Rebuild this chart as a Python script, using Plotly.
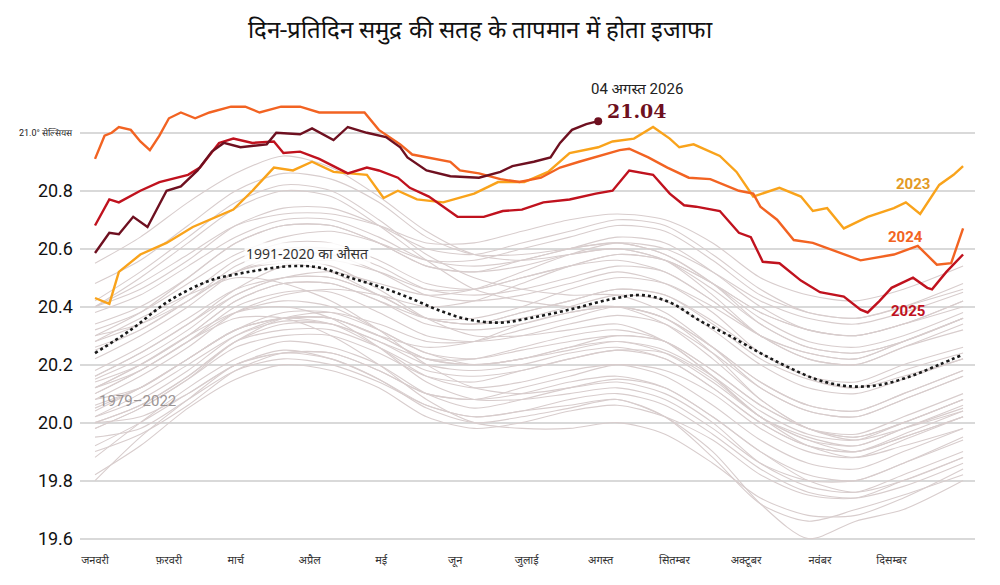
import plotly.graph_objects as go

# x values are day of year
month_days = [1, 32, 60, 91, 121, 152, 182, 213, 244, 274, 305, 335]
month_names = ["जनवरी", "फ़रवरी", "मार्च", "अप्रैल", "मई", "जून",
               "जुलाई", "अगस्त", "सितम्बर", "अक्टूबर", "नवंबर", "दिसम्बर"]

y_ticks = [19.6, 19.8, 20.0, 20.2, 20.4, 20.6, 20.8, 21.0]
y_ticktext = ["19.6", "19.8", "20.0", "20.2", "20.4", "20.6", "20.8", ""]

# grey lines 1979-2022, sampled every ~20 days
grey_days = [1, 20, 40, 60, 80, 100, 120, 140, 160, 180, 200, 220, 240, 260, 280, 300, 320, 340, 365]
grey_years = {
    1979: [19.80, 19.95, 20.08, 20.20, 20.24, 20.22, 20.15, 20.05, 20.00, 20.02, 20.05, 20.08, 20.02, 19.88, 19.72, 19.66, 19.70, 19.75, 19.82],
    1980: [19.88, 20.00, 20.12, 20.22, 20.28, 20.26, 20.20, 20.10, 20.05, 20.08, 20.12, 20.15, 20.12, 20.02, 19.90, 19.80, 19.76, 19.80, 19.88],
    1981: [20.00, 20.02, 20.10, 20.20, 20.25, 20.22, 20.15, 20.06, 20.02, 20.04, 20.08, 20.10, 20.06, 19.96, 19.84, 19.76, 19.74, 19.78, 19.86],
    1982: [19.98, 20.05, 20.15, 20.26, 20.30, 20.30, 20.24, 20.16, 20.14, 20.18, 20.22, 20.25, 20.24, 20.15, 20.02, 19.95, 19.92, 19.98, 20.05],
    1983: [20.28, 20.36, 20.44, 20.50, 20.48, 20.42, 20.32, 20.20, 20.12, 20.10, 20.12, 20.14, 20.10, 20.00, 19.86, 19.78, 19.76, 19.82, 19.90],
    1984: [19.95, 19.98, 20.08, 20.18, 20.22, 20.20, 20.14, 20.06, 20.02, 20.04, 20.06, 20.08, 20.02, 19.90, 19.72, 19.60, 19.66, 19.70, 19.80],
    1985: [19.82, 19.92, 20.05, 20.15, 20.20, 20.18, 20.12, 20.02, 19.98, 20.00, 20.04, 20.06, 20.02, 19.94, 19.82, 19.75, 19.74, 19.80, 19.88],
    1986: [19.92, 20.00, 20.10, 20.20, 20.24, 20.24, 20.18, 20.10, 20.08, 20.12, 20.16, 20.20, 20.18, 20.10, 19.98, 19.90, 19.88, 19.94, 20.02],
    1987: [20.05, 20.12, 20.22, 20.32, 20.36, 20.36, 20.30, 20.26, 20.28, 20.34, 20.38, 20.40, 20.36, 20.24, 20.08, 19.98, 19.94, 19.98, 20.04],
    1988: [20.12, 20.18, 20.28, 20.36, 20.36, 20.30, 20.20, 20.08, 20.00, 19.98, 19.98, 20.00, 19.96, 19.86, 19.74, 19.68, 19.68, 19.74, 19.84],
    1989: [19.90, 19.96, 20.06, 20.18, 20.24, 20.24, 20.18, 20.10, 20.08, 20.10, 20.14, 20.16, 20.12, 20.02, 19.90, 19.82, 19.80, 19.86, 19.95],
    1990: [20.00, 20.06, 20.16, 20.28, 20.32, 20.32, 20.26, 20.18, 20.16, 20.18, 20.22, 20.25, 20.22, 20.12, 20.00, 19.92, 19.90, 19.95, 20.02],
    1991: [20.02, 20.10, 20.20, 20.30, 20.35, 20.34, 20.28, 20.22, 20.22, 20.26, 20.30, 20.32, 20.28, 20.16, 20.02, 19.92, 19.88, 19.92, 19.98],
    1992: [20.12, 20.20, 20.30, 20.38, 20.40, 20.36, 20.26, 20.14, 20.08, 20.08, 20.10, 20.12, 20.08, 19.98, 19.86, 19.80, 19.80, 19.86, 19.94],
    1993: [19.98, 20.05, 20.15, 20.28, 20.34, 20.34, 20.28, 20.20, 20.18, 20.20, 20.24, 20.26, 20.22, 20.12, 20.00, 19.92, 19.90, 19.96, 20.04],
    1994: [20.04, 20.12, 20.22, 20.32, 20.38, 20.38, 20.32, 20.24, 20.22, 20.25, 20.28, 20.30, 20.28, 20.18, 20.06, 19.98, 19.96, 20.02, 20.10],
    1995: [20.10, 20.18, 20.28, 20.38, 20.42, 20.40, 20.32, 20.24, 20.20, 20.22, 20.25, 20.28, 20.24, 20.14, 20.02, 19.94, 19.92, 19.98, 20.06],
    1996: [20.06, 20.12, 20.22, 20.32, 20.36, 20.36, 20.30, 20.22, 20.20, 20.22, 20.26, 20.28, 20.25, 20.16, 20.04, 19.96, 19.94, 20.00, 20.08],
    1997: [20.08, 20.16, 20.26, 20.38, 20.44, 20.46, 20.44, 20.40, 20.42, 20.48, 20.54, 20.58, 20.56, 20.48, 20.38, 20.32, 20.30, 20.34, 20.42],
    1998: [20.40, 20.50, 20.62, 20.74, 20.80, 20.78, 20.68, 20.56, 20.46, 20.42, 20.40, 20.40, 20.34, 20.22, 20.08, 19.98, 19.95, 20.00, 20.08],
    1999: [20.08, 20.12, 20.22, 20.32, 20.36, 20.34, 20.26, 20.16, 20.12, 20.14, 20.18, 20.20, 20.16, 20.06, 19.94, 19.86, 19.84, 19.90, 19.98],
    2000: [20.02, 20.08, 20.18, 20.30, 20.36, 20.36, 20.30, 20.22, 20.20, 20.22, 20.26, 20.30, 20.28, 20.18, 20.06, 19.98, 19.95, 20.00, 20.08],
    2001: [20.10, 20.18, 20.28, 20.40, 20.45, 20.45, 20.38, 20.30, 20.28, 20.30, 20.34, 20.37, 20.34, 20.24, 20.12, 20.04, 20.02, 20.08, 20.16],
    2002: [20.18, 20.26, 20.36, 20.46, 20.50, 20.50, 20.44, 20.36, 20.34, 20.38, 20.42, 20.46, 20.44, 20.35, 20.24, 20.16, 20.14, 20.20, 20.26],
    2003: [20.25, 20.32, 20.42, 20.52, 20.55, 20.52, 20.44, 20.36, 20.34, 20.36, 20.40, 20.44, 20.42, 20.32, 20.20, 20.12, 20.10, 20.15, 20.22],
    2004: [20.16, 20.24, 20.34, 20.44, 20.50, 20.50, 20.44, 20.36, 20.34, 20.38, 20.42, 20.46, 20.44, 20.34, 20.22, 20.15, 20.12, 20.18, 20.24],
    2005: [20.22, 20.30, 20.40, 20.52, 20.58, 20.58, 20.52, 20.44, 20.42, 20.44, 20.48, 20.52, 20.48, 20.38, 20.24, 20.16, 20.12, 20.16, 20.22],
    2006: [20.14, 20.20, 20.30, 20.42, 20.48, 20.48, 20.42, 20.36, 20.36, 20.40, 20.46, 20.50, 20.48, 20.40, 20.30, 20.24, 20.22, 20.28, 20.36],
    2007: [20.30, 20.34, 20.42, 20.52, 20.56, 20.54, 20.46, 20.36, 20.30, 20.30, 20.32, 20.34, 20.28, 20.16, 20.02, 19.94, 19.90, 19.95, 20.02],
    2008: [20.00, 20.06, 20.16, 20.28, 20.36, 20.38, 20.34, 20.28, 20.28, 20.32, 20.36, 20.40, 20.36, 20.26, 20.14, 20.06, 20.04, 20.10, 20.18],
    2009: [20.15, 20.22, 20.32, 20.44, 20.50, 20.52, 20.48, 20.44, 20.46, 20.52, 20.58, 20.62, 20.60, 20.52, 20.42, 20.36, 20.34, 20.38, 20.45],
    2010: [20.42, 20.52, 20.64, 20.76, 20.82, 20.80, 20.70, 20.58, 20.50, 20.46, 20.44, 20.44, 20.38, 20.26, 20.12, 20.04, 20.02, 20.08, 20.16],
    2011: [20.12, 20.20, 20.30, 20.42, 20.48, 20.48, 20.42, 20.34, 20.32, 20.34, 20.38, 20.40, 20.36, 20.26, 20.14, 20.06, 20.04, 20.10, 20.18],
    2012: [20.16, 20.24, 20.34, 20.46, 20.54, 20.56, 20.52, 20.46, 20.46, 20.50, 20.54, 20.56, 20.52, 20.42, 20.30, 20.22, 20.20, 20.26, 20.32],
    2013: [20.26, 20.32, 20.42, 20.54, 20.60, 20.60, 20.54, 20.46, 20.44, 20.46, 20.50, 20.54, 20.52, 20.42, 20.30, 20.24, 20.22, 20.28, 20.36],
    2014: [20.32, 20.38, 20.48, 20.58, 20.64, 20.66, 20.62, 20.56, 20.56, 20.60, 20.64, 20.68, 20.66, 20.56, 20.44, 20.38, 20.36, 20.40, 20.46],
    2015: [20.40, 20.48, 20.58, 20.68, 20.72, 20.72, 20.68, 20.62, 20.62, 20.66, 20.70, 20.72, 20.70, 20.62, 20.50, 20.44, 20.42, 20.46, 20.54],
    2016: [20.55, 20.64, 20.76, 20.86, 20.92, 20.88, 20.78, 20.66, 20.58, 20.56, 20.58, 20.60, 20.56, 20.44, 20.30, 20.22, 20.20, 20.26, 20.34],
    2017: [20.30, 20.38, 20.50, 20.62, 20.68, 20.68, 20.62, 20.54, 20.52, 20.54, 20.58, 20.60, 20.56, 20.46, 20.34, 20.26, 20.24, 20.28, 20.36],
    2018: [20.28, 20.34, 20.44, 20.56, 20.62, 20.62, 20.56, 20.48, 20.46, 20.50, 20.54, 20.58, 20.56, 20.48, 20.38, 20.32, 20.30, 20.34, 20.42],
    2019: [20.40, 20.46, 20.56, 20.68, 20.74, 20.74, 20.68, 20.60, 20.58, 20.62, 20.66, 20.70, 20.68, 20.58, 20.46, 20.38, 20.36, 20.40, 20.48],
    2020: [20.48, 20.56, 20.68, 20.80, 20.86, 20.84, 20.76, 20.64, 20.58, 20.58, 20.60, 20.62, 20.58, 20.48, 20.34, 20.26, 20.24, 20.28, 20.36],
    2021: [20.34, 20.40, 20.50, 20.62, 20.68, 20.68, 20.62, 20.54, 20.52, 20.56, 20.60, 20.64, 20.62, 20.52, 20.40, 20.32, 20.30, 20.34, 20.40],
    2022: [20.38, 20.44, 20.54, 20.64, 20.70, 20.70, 20.64, 20.56, 20.54, 20.56, 20.60, 20.62, 20.58, 20.48, 20.36, 20.28, 20.26, 20.30, 20.38],
}

# 1991-2020 average
avg_days = [1, 16, 32, 49, 59, 83, 95, 108, 120, 133, 146, 158, 171, 183, 200, 217, 230, 242,
            255, 267, 280, 292, 305, 318, 330, 343, 355, 365]
avg_vals = [20.24, 20.32, 20.42, 20.49, 20.51, 20.54, 20.535, 20.50, 20.47, 20.43, 20.385, 20.355,
            20.345, 20.36, 20.39, 20.425, 20.44, 20.415, 20.35, 20.30, 20.24, 20.19, 20.145, 20.125,
            20.13, 20.16, 20.20, 20.235]

days_2023 = [1, 4, 7, 11, 20, 31, 42, 59, 67, 76, 84, 92, 101, 115, 122, 128, 136, 147, 160, 170,
             181, 191, 200, 212, 218, 227, 235, 242, 246, 252, 263, 270, 277, 288, 297, 302, 308,
             315, 325, 336, 341, 347, 355, 361, 365]
vals_2023 = [20.43, 20.42, 20.41, 20.52, 20.58, 20.62, 20.675, 20.735, 20.80, 20.88, 20.87, 20.90,
             20.865, 20.855, 20.775, 20.80, 20.77, 20.76, 20.79, 20.83, 20.83, 20.865, 20.93, 20.95,
             20.97, 20.98, 21.02, 20.98, 20.95, 20.96, 20.92, 20.865, 20.78, 20.81, 20.78, 20.73,
             20.74, 20.67, 20.71, 20.74, 20.76, 20.72, 20.82, 20.855, 20.885]

days_2024 = [1, 5, 8, 11, 16, 20, 24, 28, 32, 37, 43, 49, 58, 64, 70, 79, 87, 95, 106, 114, 120,
             129, 134, 141, 150, 154, 162, 171, 179, 188, 196, 204, 213, 221, 225, 233, 241, 250,
             259, 271, 277, 280, 287, 294, 302, 315, 322, 336, 346, 354, 360, 365]
vals_2024 = [20.91, 20.99, 21.00, 21.02, 21.01, 20.97, 20.94, 20.99, 21.05, 21.07, 21.05, 21.07,
             21.09, 21.09, 21.07, 21.09, 21.09, 21.07, 21.07, 21.07, 21.01, 20.96, 20.925, 20.915,
             20.90, 20.87, 20.86, 20.84, 20.83, 20.845, 20.88, 20.90, 20.92, 20.94, 20.945, 20.915,
             20.88, 20.845, 20.84, 20.80, 20.79, 20.745, 20.70, 20.63, 20.62, 20.58, 20.56, 20.58,
             20.61, 20.545, 20.55, 20.67]

days_2025 = [1, 7, 11, 20, 28, 40, 45, 53, 59, 67, 76, 80, 87, 95, 107, 115, 120, 128, 133, 141,
             153, 164, 172, 180, 189, 200, 211, 218, 225, 235, 242, 248, 253, 263, 271, 276, 281,
             288, 297, 305, 315, 322, 325, 330, 335, 344, 350, 352, 358, 365]
vals_2025 = [20.68, 20.77, 20.76, 20.80, 20.83, 20.855, 20.88, 20.965, 20.98, 20.965, 20.97, 20.93,
             20.935, 20.91, 20.86, 20.88, 20.87, 20.845, 20.81, 20.78, 20.71, 20.71, 20.73, 20.735,
             20.76, 20.77, 20.79, 20.80, 20.87, 20.855, 20.79, 20.75, 20.745, 20.73, 20.655, 20.64,
             20.555, 20.55, 20.49, 20.45, 20.435, 20.39, 20.38, 20.42, 20.465, 20.50, 20.465, 20.46,
             20.52, 20.58]

days_2026 = [1, 7, 11, 17, 23, 31, 37, 44, 50, 55, 62, 73, 77, 87, 92, 101, 107, 115, 123, 129,
             132, 140, 150, 162, 171, 176, 185, 192, 196, 201, 207, 212]
vals_2026 = [20.585, 20.655, 20.65, 20.71, 20.675, 20.80, 20.815, 20.87, 20.935, 20.965, 20.95,
             20.96, 21.00, 20.995, 21.015, 20.975, 21.02, 21.00, 20.985, 20.95, 20.915, 20.87, 20.85,
             20.845, 20.865, 20.885, 20.90, 20.915, 20.965, 21.01, 21.03, 21.04]

c2023 = "#f9a31b"
c2024 = "#f26322"
c2025 = "#c0121e"
c2026 = "#6e1020"
grey = "#d8cdcd"

fig = go.Figure()

for yr, vals in grey_years.items():
    fig.add_trace(go.Scatter(x=grey_days, y=vals, mode="lines", name=str(yr),
                             line=dict(color=grey, width=1.1, shape="spline", smoothing=0.8),
                             hoverinfo="skip"))

fig.add_trace(go.Scatter(x=avg_days, y=avg_vals, mode="lines", name="1991-2020",
                         line=dict(color="#1a1a1a", width=2.6, dash="dot", shape="spline")))

fig.add_trace(go.Scatter(x=days_2023, y=vals_2023, mode="lines", name="2023",
                         line=dict(color=c2023, width=2.4)))
fig.add_trace(go.Scatter(x=days_2024, y=vals_2024, mode="lines", name="2024",
                         line=dict(color=c2024, width=2.4)))
fig.add_trace(go.Scatter(x=days_2025, y=vals_2025, mode="lines", name="2025",
                         line=dict(color=c2025, width=2.4)))
fig.add_trace(go.Scatter(x=days_2026, y=vals_2026, mode="lines", name="2026",
                         line=dict(color=c2026, width=2.4)))
# end point of 2026
fig.add_trace(go.Scatter(x=[days_2026[-1]], y=[vals_2026[-1]], mode="markers",
                         marker=dict(color=c2026, size=8), cliponaxis=False))

# labels
fig.add_annotation(x=208, y=1.02, xref="x", yref="paper", text="04 अगस्त 2026", showarrow=False,
                   xanchor="left", yanchor="middle",
                   font=dict(size=15, color="#222", family="Roboto, Noto Sans"))
fig.add_annotation(x=215, y=21.076, text="<b>21.04</b>", showarrow=False, xanchor="left",
                   font=dict(size=19, color=c2026, family="DejaVu Serif"))
fig.add_annotation(x=344, y=20.824, text="<b>2023</b>", showarrow=False,
                   font=dict(size=15, color="#e39a25", family="Roboto"))
fig.add_annotation(x=341, y=20.641, text="<b>2024</b>", showarrow=False,
                   font=dict(size=15, color=c2024, family="Roboto"))
fig.add_annotation(x=342, y=20.386, text="<b>2025</b>", showarrow=False,
                   font=dict(size=15, color=c2025, family="Roboto"))
fig.add_annotation(x=90, y=20.583, text="1991-2020 का औसत", showarrow=False,
                   bgcolor="rgba(255,255,255,0.85)", borderpad=1,
                   font=dict(size=14, color="#333", family="Noto Sans"))
fig.add_annotation(x=2, y=20.076, text="1979–2022", showarrow=False, xanchor="left",
                   font=dict(size=15, color="#9a9494", family="Roboto"))
fig.add_annotation(x=-0.006, y=21.0, xref="paper", text="21.0° सेल्सियस", showarrow=False,
                   xanchor="right", font=dict(size=9, color="#222", family="Roboto"))

fig.update_layout(
    width=1000, height=585,
    title=dict(text="दिन-प्रतिदिन समुद्र की सतह के तापमान में होता इजाफा", x=0.48, xanchor="center",
               y=0.95, yanchor="middle", font=dict(size=24, color="#111", family="Noto Serif, serif")),
    margin=dict(l=80, r=25, t=98, b=45),
    plot_bgcolor="white", paper_bgcolor="white",
    showlegend=False,
    xaxis=dict(range=[-5.3, 370], tickvals=month_days, ticktext=month_names, showgrid=False,
               zeroline=False, showline=False, ticks="", ticklabelstandoff=12,
               tickfont=dict(size=11, color="#333", family="Noto Sans")),
    yaxis=dict(range=[19.595, 21.12], tickvals=y_ticks, ticktext=y_ticktext, showgrid=True,
               gridcolor="#d9d9d9", gridwidth=1.5, zeroline=False, showline=False, ticks="",
               ticklabelstandoff=6,
               tickfont=dict(size=18, color="#111", family="Liberation Sans Narrow, Roboto")),
)

fig.write_html("out.html", config={"displayModeBar": False},
               post_script="document.body.style.margin='0px';")
